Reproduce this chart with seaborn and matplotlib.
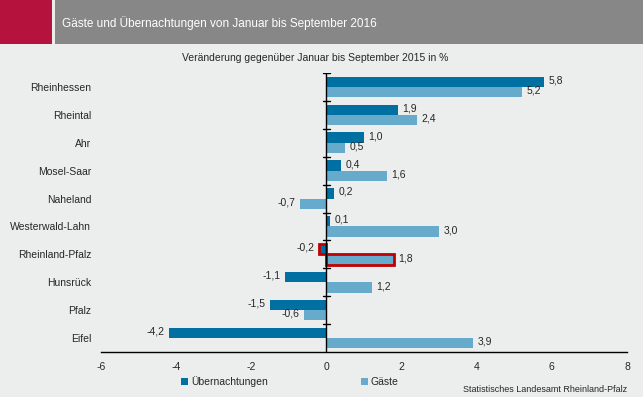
import pandas as pd
import numpy as np
import matplotlib.pyplot as plt
import seaborn as sns
from matplotlib.patches import Rectangle

regionen = ['Rheinhessen', 'Rheintal', 'Ahr', 'Mosel-Saar', 'Naheland',
            'Westerwald-Lahn', 'Rheinland-Pfalz', 'Hunsrück', 'Pfalz', 'Eifel']
uebernachtungen = [5.8, 1.9, 1.0, 0.4, 0.2, 0.1, -0.2, -1.1, -1.5, -4.2]
gaeste = [5.2, 2.4, 0.5, 1.6, -0.7, 3.0, 1.8, 1.2, -0.6, 3.9]

df = pd.DataFrame({
    'Region': regionen * 2,
    'Wert': uebernachtungen + gaeste,
    'Serie': ['Übernachtungen'] * len(regionen) + ['Gäste'] * len(regionen),
})

bg = '#ECEEED'
sns.set_style('white')
plt.rcParams['font.family'] = ['Liberation Sans', 'DejaVu Sans']

fig = plt.figure(figsize=(6.43, 3.97), dpi=100, facecolor=bg)
ax = fig.add_axes([101/643, 1 - 352/397, 526/643, 279/397])
ax.set_facecolor(bg)

sns.barplot(data=df, y='Region', x='Wert', hue='Serie', orient='h',
            palette=['#0070A3', '#66ABCB'], width=0.74, saturation=1,
            ax=ax, linewidth=0)

ax.set_xlim(-6, 8)
ax.set_ylim(len(regionen) - 0.5, -0.5)
ax.set_xticks(range(-6, 9, 2))
ax.set_xticklabels([str(t) for t in range(-6, 9, 2)], fontsize=7.5)
ax.tick_params(axis='x', length=4, width=1, color='black', direction='out', pad=3)
ax.tick_params(axis='y', length=0, pad=7, labelsize=7.5)
ax.set_xlabel('')
ax.set_ylabel('')
for s in ['left', 'right', 'top']:
    ax.spines[s].set_visible(False)
ax.spines['bottom'].set_color('black')
ax.spines['bottom'].set_linewidth(1)

# senkrechte Nulllinie mit Teilstrichen
ax.axvline(0, color='black', lw=1)
for k in range(len(regionen)):
    ax.plot([-0.1, 0.1], [k - 0.5, k - 0.5], color='black', lw=1)

# Werte beschriften
for cont in ax.containers:
    for bar in cont:
        v = bar.get_width()
        y = bar.get_y() + bar.get_height() / 2
        txt = f'{v:.1f}'.replace('.', ',')
        if v >= 0:
            ax.text(v + 0.12, y - 0.05, txt, ha='left', va='center', fontsize=7.5)
        else:
            ax.text(v - 0.12, y - 0.05, txt, ha='right', va='center', fontsize=7.5)

# Rheinland-Pfalz hervorheben
idx = regionen.index('Rheinland-Pfalz')
for cont in ax.containers:
    cont[idx].set_edgecolor('#C00000')
    cont[idx].set_linewidth(2)

handles, labels = ax.get_legend_handles_labels()
ax.get_legend().remove()
fig.legend(handles, labels, loc='center', bbox_to_anchor=(290/643, 1 - 382/397),
           ncol=2, frameon=False, fontsize=7.5, handlelength=0.6, handleheight=0.6,
           handletextpad=0.3, columnspacing=9)

# Kopfzeile
fig.patches.append(Rectangle((0, 1 - 44/397), 52/643, 44/397, transform=fig.transFigure,
                             facecolor='#B5123E', edgecolor='none'))
fig.patches.append(Rectangle((55/643, 1 - 44/397), 1, 44/397, transform=fig.transFigure,
                             facecolor='#878787', edgecolor='none'))
fig.text(62/643, 1 - 23/397, 'Gäste und Übernachtungen von Januar bis September 2016',
         color='white', fontsize=8.5, va='center', ha='left')
fig.text(315/643, 1 - 58/397, 'Veränderung gegenüber Januar bis September 2015 in %',
         fontsize=7.5, ha='center', va='center')
fig.text(627/643, 1 - 389/397, 'Statistisches Landesamt Rheinland-Pfalz',
         fontsize=6.5, ha='right', va='center')

fig.savefig('out.png', dpi=100, facecolor=bg)
